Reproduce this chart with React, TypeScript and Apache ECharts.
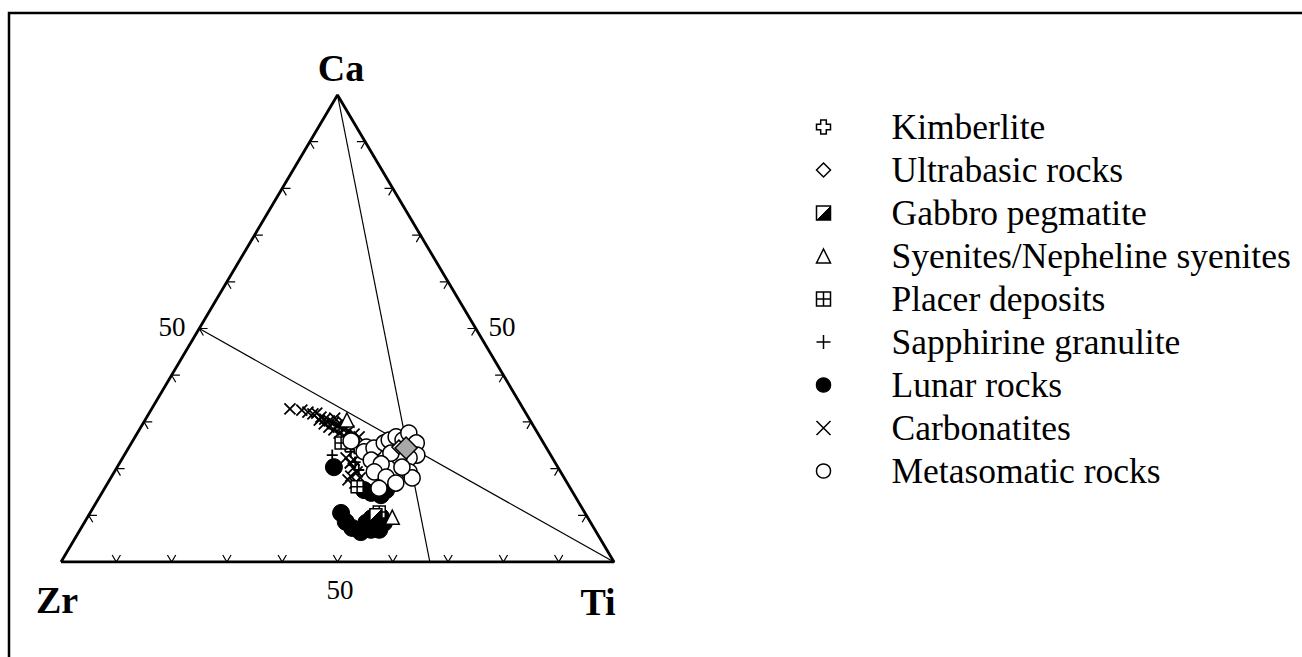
import React, { useEffect, useRef } from "react";
import * as echarts from "echarts";

// Ternary compositions in percent: [Ca, Zr, Ti]
const KIMBERLITE = [[24.6, 34.2, 41.2]];
const ULTRABASIC = [[24.6, 26.6, 48.8], [24.4, 25.4, 50.2]];
const GABBRO = [[10.1, 38.0, 51.9]];
const SYENITES = [[9.6, 35.3, 55.1], [30.4, 33.1, 36.5]];
const PLACER = [[25.5, 36.6, 37.9], [16.1, 38.4, 45.5], [10.7, 37.1, 52.2]];
const SAPPHIRINE = [
  [24.8, 36.2, 39.0], [23.6, 35.8, 40.6], [21.4, 36.1, 42.5],
  [22.9, 39.5, 37.6], [19.7, 36.3, 44.0], [26.1, 35.2, 38.7],
];
const LUNAR = [
  [20.3, 40.5, 39.2], [10.5, 44.1, 45.4], [8.6, 44.2, 47.2], [7.3, 43.7, 49.0],
  [6.4, 42.6, 51.0], [6.9, 40.5, 52.6], [6.9, 39.0, 54.1], [8.4, 37.4, 54.2],
  [9.4, 39.1, 51.5], [9.6, 37.3, 53.1], [8.4, 40.6, 51.0], [14.8, 36.5, 48.7],
  [14.3, 35.0, 50.7], [15.4, 33.5, 51.1], [15.4, 37.5, 47.1],
];
const CARBONATITES = [
  [32.8, 42.2, 25.0], [32.5, 40.2, 27.3], [32.1, 39.3, 28.6], [31.7, 38.6, 29.7],
  [31.9, 37.8, 30.3], [31.0, 37.5, 31.5], [30.6, 37.0, 32.4], [30.2, 36.4, 33.4],
  [29.8, 35.9, 34.3], [29.3, 35.4, 35.3], [28.9, 34.9, 36.2], [28.5, 34.4, 37.1],
  [28.1, 33.9, 38.0], [30.4, 38.1, 31.5], [29.6, 37.6, 32.8], [28.9, 37.1, 34.0],
  [28.3, 36.5, 35.2], [27.6, 35.9, 36.5], [27.0, 35.3, 37.7], [27.4, 33.3, 39.3],
  [26.8, 32.7, 40.5], [30.8, 35.1, 34.1], [30.0, 34.0, 36.0],
  [22.3, 37.3, 40.4], [21.2, 37.1, 41.7], [20.1, 37.1, 42.8], [19.3, 36.8, 43.9],
  [18.4, 38.4, 43.2], [17.6, 39.3, 43.1], [16.9, 38.4, 44.7], [18.0, 36.9, 45.1],
  [21.8, 36.1, 42.1],
];
const METASOMATIC = [
  [25.9, 34.6, 39.5], [24.6, 32.5, 42.9], [23.6, 33.4, 43.0], [24.4, 31.2, 44.4],
  [25.5, 28.8, 45.7], [26.1, 27.6, 46.3], [26.8, 26.0, 47.2], [26.1, 25.1, 48.8],
  [27.6, 23.3, 49.1], [24.4, 24.5, 51.1], [25.5, 23.0, 51.5], [22.9, 24.2, 52.9],
  [22.3, 25.9, 51.8], [22.5, 27.6, 49.9], [23.3, 28.7, 48.0], [21.8, 33.0, 45.2],
  [21.0, 31.6, 47.4], [19.3, 33.7, 47.0], [18.2, 32.1, 49.7], [16.9, 31.0, 52.1],
  [15.8, 34.6, 49.6], [19.3, 27.4, 53.3], [18.0, 27.5, 54.5], [20.3, 28.2, 51.5],
];

// Triangle outline and reference lines, ternary [Ca, Zr, Ti]
const OUTLINE = [[0, 100, 0], [0, 0, 100], [100, 0, 0], [0, 100, 0]];
const LINE_TI = [[0, 0, 100], [50, 50, 0]];
const LINE_CA = [[100, 0, 0], [0, 33.3, 66.7]];
const TICK_VALUES = [10, 20, 30, 40, 50, 60, 70, 80, 90];
const TICK_LABEL = "50";
const LEGEND_NAMES = [
  "Kimberlite",
  "Ultrabasic rocks",
  "Gabbro pegmatite",
  "Syenites/Nepheline syenites",
  "Placer deposits",
  "Sapphirine granulite",
  "Lunar rocks",
  "Carbonatites",
  "Metasomatic rocks",
];

const toXY = (p: number[]) => [p[2] / 100 + p[0] / 200, p[0] / 100];

const SERIF = '"Liberation Serif", "Times New Roman", serif';

export default function App() {
  const ref = useRef<HTMLDivElement>(null);
  useEffect(() => {
    if (!ref.current) return;
    const chart = echarts.init(ref.current, undefined, { renderer: "svg" });
    const black = { color: "#000", borderColor: "#000", borderWidth: 1, opacity: 1 };
    const white = { color: "#fff", borderColor: "#000", borderWidth: 1.5, opacity: 1 };
    const stroke = { color: "none", borderColor: "#000", borderWidth: 1.8, opacity: 1 };
    const gabbroFill = new echarts.graphic.LinearGradient(0, 0, 1, 1, [
      { offset: 0, color: "#fff" },
      { offset: 0.5, color: "#fff" },
      { offset: 0.5, color: "#000" },
      { offset: 1, color: "#000" },
    ]);
    const sc = (name: string, data: number[][], symbol: string, size: number, itemStyle: any, z: number, extra?: any) => ({
      type: "scatter",
      name,
      data: data.map((p, i) => {
        const v: any = { value: toXY(p) };
        if (extra && extra[i]) Object.assign(v, extra[i]);
        return v;
      }),
      symbol,
      symbolSize: size,
      itemStyle,
      z,
      silent: true,
    });
    const ticks: number[][] = [];
    for (let e = 0; e < 3; e++) TICK_VALUES.forEach((t) => ticks.push([e, t]));
    const option: any = {
      animation: false,
      backgroundColor: "#fff",
      grid: { left: 61, right: 1302 - 614, top: 95, bottom: 657 - 562 },
      xAxis: { type: "value", min: 0, max: 1, show: false },
      yAxis: { type: "value", min: 0, max: 1, show: false },
      legend: {
        orient: "vertical",
        left: 814,
        top: 109,
        padding: 0,
        itemWidth: 14,
        itemHeight: 14,
        itemGap: 7,
        selectedMode: false,
        data: LEGEND_NAMES,
        itemStyle: { borderWidth: 1.5 },
        textStyle: {
          fontFamily: SERIF,
          fontSize: 35.5,
          color: "#000",
          lineHeight: 34,
          padding: [0, 0, 0, 56],
        },
      },
      series: [
        {
          type: "line",
          data: OUTLINE.map(toXY),
          symbol: "none",
          lineStyle: { color: "#000", width: 2.8 },
          silent: true,
          z: 1,
        },
        {
          type: "line",
          data: LINE_TI.map(toXY),
          symbol: "none",
          lineStyle: { color: "#000", width: 1.2 },
          silent: true,
          z: 1,
        },
        {
          type: "line",
          data: LINE_CA.map(toXY),
          symbol: "none",
          lineStyle: { color: "#000", width: 1.2 },
          silent: true,
          z: 1,
        },
        {
          type: "custom",
          data: ticks,
          clip: false,
          silent: true,
          z: 1,
          renderItem: (params: any, api: any) => {
            const edge = api.value(0);
            const t = api.value(1) / 100;
            const d = 0.015;
            let p: number[], a: number[], b: number[];
            if (edge === 0) {
              p = [0, t]; a = [d, t - d]; b = [d, t];
            } else if (edge === 1) {
              p = [t, 0]; a = [t, d]; b = [t - d, d];
            } else {
              p = [t, 1 - t]; a = [t, 1 - t - d]; b = [t - d, 1 - t];
            }
            const c = (q: number[]) => api.coord([q[1] + q[0] / 2, q[0]]);
            return {
              type: "polyline",
              shape: { points: [c(a), c(p), c(b)] },
              style: { stroke: "#000", lineWidth: 1.2, fill: "none" },
            };
          },
        },
        sc("Carbonatites", CARBONATITES, "path://M0,0L10,10M10,0L0,10", 11, stroke, 2),
        sc("Sapphirine granulite", SAPPHIRINE, "path://M5,0V10M0,5H10", 11, stroke, 2),
        sc("Lunar rocks", LUNAR, "circle", 17, black, 3),
        sc("Placer deposits", PLACER, "path://M0,0H10V10H0ZM5,0V10M0,5H10", 12, white, 4),
        sc("Gabbro pegmatite", GABBRO, "rect", 12, { color: gabbroFill, borderColor: "#000", borderWidth: 1.5, opacity: 1 }, 4),
        sc("Syenites/Nepheline syenites", SYENITES, "triangle", 14, white, 4),
        sc("Kimberlite", KIMBERLITE, "path://M3,0H7V3H10V7H7V10H3V7H0V3H3Z", 13, white, 4),
        sc("Metasomatic rocks", METASOMATIC, "circle", 16, white, 5),
        sc("Ultrabasic rocks", ULTRABASIC, "diamond", 14, white, 6, [
          null,
          { symbolSize: 22, itemStyle: { color: "#a8a8a8", borderColor: "#000", borderWidth: 1.5, opacity: 1 } },
        ]),
      ],
      graphic: [
        {
          type: "rect",
          shape: { x: 9, y: 13, width: 1400, height: 720 },
          style: { fill: "none", stroke: "#000", lineWidth: 2.5 },
          silent: true,
        },
        {
          type: "text",
          x: 341,
          y: 68,
          style: { text: "Ca", font: `bold 38px ${SERIF}`, fill: "#000", align: "center", verticalAlign: "middle" },
        },
        {
          type: "text",
          x: 57,
          y: 600,
          style: { text: "Zr", font: `bold 38px ${SERIF}`, fill: "#000", align: "center", verticalAlign: "middle" },
        },
        {
          type: "text",
          x: 598,
          y: 602,
          style: { text: "Ti", font: `bold 38px ${SERIF}`, fill: "#000", align: "center", verticalAlign: "middle" },
        },
        {
          type: "text",
          x: 172,
          y: 327,
          style: { text: TICK_LABEL, font: `27px ${SERIF}`, fill: "#000", align: "center", verticalAlign: "middle" },
        },
        {
          type: "text",
          x: 502,
          y: 327,
          style: { text: TICK_LABEL, font: `27px ${SERIF}`, fill: "#000", align: "center", verticalAlign: "middle" },
        },
        {
          type: "text",
          x: 340,
          y: 590,
          style: { text: TICK_LABEL, font: `27px ${SERIF}`, fill: "#000", align: "center", verticalAlign: "middle" },
        },
      ],
    };
    chart.setOption(option);
    return () => chart.dispose();
  }, []);
  return (
    <div
      ref={ref}
      style={{ position: "fixed", left: 0, top: 0, width: 1302, height: 657, background: "#fff" }}
    />
  );
}
